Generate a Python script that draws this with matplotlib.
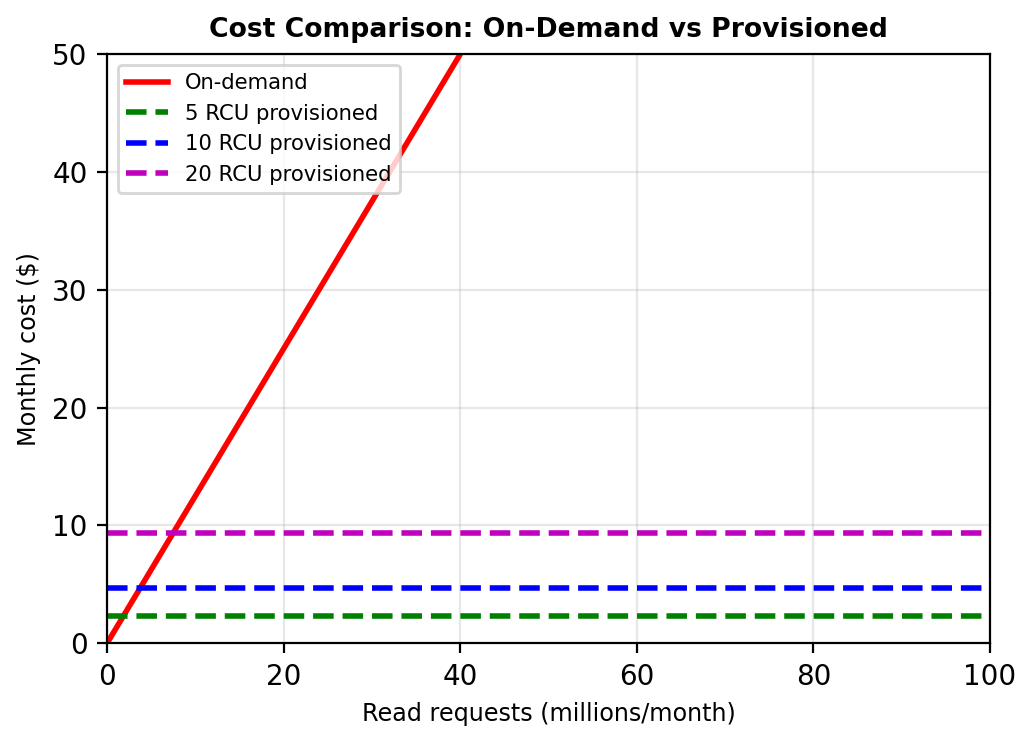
import matplotlib
matplotlib.use("Agg")
import matplotlib.pyplot as plt

# valores
reads = [0, 100]
on_demand = [0, 125]
prov_labels = ['5 RCU provisioned', '10 RCU provisioned', '20 RCU provisioned']
prov_costs = [2.34, 4.68, 9.36]
prov_colors = ['g', 'b', 'm']

fig, ax = plt.subplots(figsize=(5.17, 3.71), dpi=200)
fig.subplots_adjust(left=0.1035, right=0.9575, top=0.927, bottom=0.133)

ax.plot(reads, on_demand, 'r-', linewidth=2, label='On-demand')
for lab, cost, cor in zip(prov_labels, prov_costs, prov_colors):
    ax.plot(reads, [cost, cost], color=cor, linestyle='--', linewidth=2, label=lab)

ax.set_xlim(0, 100)
ax.set_ylim(0, 50)
ax.set_xlabel('Read requests (millions/month)', fontsize=8.6)
ax.set_ylabel('Monthly cost ($)', fontsize=8.6)
ax.set_title('Cost Comparison: On-Demand vs Provisioned', fontsize=9.6, fontweight='bold')
ax.legend(loc='upper left', fontsize=7.6)
ax.grid(True, alpha=0.3)

plt.savefig('out.png', dpi=200)
